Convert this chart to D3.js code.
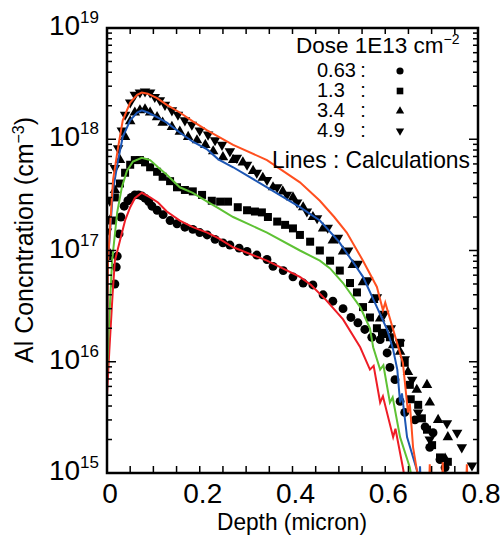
<!DOCTYPE html>
<html>
<head>
<meta charset="utf-8">
<script src="https://cdn.jsdelivr.net/npm/d3@7"></script>
<style>
body { margin: 0; background: #fff; }
text { font-family: "Liberation Sans", Arial, sans-serif; fill: #000; }
</style>
</head>
<body>
<svg id="chart" width="500" height="538"></svg>
<script>
// depth (micron), Al concentration (cm^-3)
const calc063 = [[0,5.0e15],[0.005,1.26e16],[0.012,4.0e16],[0.017,8.1e16],[0.028,1.23e17],[0.039,1.86e17],[0.05,2.45e17],[0.06,2.95e17],[0.075,3.3e17],[0.093,3.0e17],[0.11,2.7e17],[0.129,2.24e17],[0.157,1.86e17],[0.185,1.62e17],[0.216,1.45e17],[0.24,1.29e17],[0.272,1.07e17],[0.345,8.1e16],[0.416,5.8e16],[0.44,4.9e16],[0.472,3.6e16],[0.509,2.4e16],[0.546,1.35e16],[0.567,8.5e15],[0.575,9.2e15],[0.589,4.3e15],[0.595,4.9e15],[0.617,2.1e15],[0.622,2.5e15],[0.638,1.12e15],[0.642,9e14]];
const calc13 = [[0,7.9e15],[0.005,2.5e16],[0.011,8.1e16],[0.022,2.2e17],[0.032,3.7e17],[0.043,5.2e17],[0.056,6.3e17],[0.075,6.8e17],[0.093,6.5e17],[0.11,5.6e17],[0.129,4.8e17],[0.157,3.7e17],[0.185,3.3e17],[0.216,2.75e17],[0.24,2.4e17],[0.272,2.0e17],[0.345,1.45e17],[0.416,1.0e17],[0.459,8.1e16],[0.481,6.9e16],[0.509,5.1e16],[0.546,3.1e16],[0.567,2.0e16],[0.574,1.35e16],[0.589,8.5e15],[0.596,9.3e15],[0.61,4.3e15],[0.616,4.8e15],[0.632,2.1e15],[0.653,1.12e15],[0.657,9e14]];
const calc34 = [[0,1.0e16],[0.002,7.9e16],[0.013,3.5e17],[0.024,6.5e17],[0.034,1.05e18],[0.05,1.48e18],[0.065,1.74e18],[0.075,1.82e18],[0.088,1.74e18],[0.108,1.58e18],[0.129,1.41e18],[0.157,1.15e18],[0.185,9.5e17],[0.216,8.1e17],[0.24,6.6e17],[0.272,5.6e17],[0.345,3.7e17],[0.416,2.45e17],[0.459,1.86e17],[0.5,1.2e17],[0.533,7.6e16],[0.552,5.8e16],[0.582,3.1e16],[0.604,1.95e16],[0.617,1.29e16],[0.626,8.5e15],[0.632,4.3e15],[0.636,5.2e15],[0.647,2.1e15],[0.668,1.07e15],[0.672,9e14],[0.674,9e14],[0.675,1.15e15],[0.676,9e14]];
const calc49 = [[0,1.0e16],[0.002,7.9e16],[0.013,4.3e17],[0.024,8.5e17],[0.034,1.48e18],[0.05,2.14e18],[0.065,2.51e18],[0.075,2.63e18],[0.088,2.57e18],[0.108,2.34e18],[0.129,2.04e18],[0.157,1.74e18],[0.185,1.45e18],[0.216,1.2e18],[0.272,8.9e17],[0.345,6.5e17],[0.416,4.1e17],[0.459,2.8e17],[0.49,2.0e17],[0.517,1.45e17],[0.552,8.1e16],[0.582,4.7e16],[0.595,2.9e16],[0.6,3.4e16],[0.617,1.95e16],[0.638,9.8e15],[0.649,3.5e15],[0.653,4.2e15],[0.66,1.7e15],[0.668,1.07e15],[0.672,9e14],[0.695,9e14],[0.696,1.2e15],[0.697,9e14],[0.723,9e14],[0.724,1.25e15],[0.725,9e14],[0.775,9e14],[0.776,1.2e15],[0.777,9e14]];

const meas063 = [[0.017,5.0e16],[0.02,7.1e16],[0.022,8.9e16],[0.026,1.41e17],[0.03,2.0e17],[0.037,2.5e17],[0.045,2.8e17],[0.052,3.0e17],[0.06,3.16e17],[0.068,3.16e17],[0.075,3.1e17],[0.082,2.95e17],[0.09,2.75e17],[0.097,2.5e17],[0.108,2.3e17],[0.121,2.1e17],[0.136,1.86e17],[0.151,1.74e17],[0.168,1.62e17],[0.185,1.55e17],[0.2,1.45e17],[0.216,1.38e17],[0.233,1.26e17],[0.25,1.17e17],[0.265,1.12e17],[0.285,1.05e17],[0.302,9.8e16],[0.323,9.1e16],[0.345,8.3e16],[0.358,7.2e16],[0.38,6.6e16],[0.401,5.8e16],[0.423,5.1e16],[0.444,4.9e16],[0.466,4.0e16],[0.487,3.5e16],[0.509,3.0e16],[0.526,2.5e16],[0.541,2.24e16],[0.556,1.95e16],[0.571,1.66e16],[0.589,1.58e16],[0.604,1.2e16],[0.61,8.9e15],[0.621,6.9e15],[0.632,4.4e15],[0.642,3.5e15],[0.664,3.0e15],[0.686,2.6e15],[0.703,2.3e15],[0.696,1.7e15],[0.718,1.32e15],[0.729,1.12e15]];
const meas13 = [[0.002,8.9e16],[0.011,1.86e17],[0.017,3.0e17],[0.028,4.0e17],[0.039,5.0e17],[0.05,5.9e17],[0.06,6.5e17],[0.071,6.5e17],[0.082,6.2e17],[0.093,5.6e17],[0.108,5.1e17],[0.12,4.6e17],[0.136,4.2e17],[0.151,3.7e17],[0.168,3.5e17],[0.185,3.4e17],[0.205,3.16e17],[0.226,2.8e17],[0.244,2.75e17],[0.261,2.75e17],[0.282,2.45e17],[0.302,2.3e17],[0.319,2.24e17],[0.334,2.2e17],[0.347,2.0e17],[0.367,1.82e17],[0.384,1.7e17],[0.401,1.58e17],[0.416,1.38e17],[0.438,1.2e17],[0.459,1.0e17],[0.481,8.1e16],[0.502,6.6e16],[0.524,5.1e16],[0.539,4.2e16],[0.552,3.1e16],[0.567,2.5e16],[0.582,2.0e16],[0.593,1.82e16],[0.61,1.66e16],[0.632,1.48e16],[0.642,9.8e15],[0.653,6.2e15],[0.655,4.6e15],[0.671,4.1e15],[0.679,3.1e15],[0.69,2.45e15],[0.701,1.78e15],[0.718,1.38e15],[0.735,1.26e15]];
const meas34 = [[0.002,1.0e17],[0.006,1.86e17],[0.017,3.5e17],[0.028,6.5e17],[0.039,1.05e18],[0.05,1.45e18],[0.06,1.74e18],[0.071,1.82e18],[0.082,1.86e18],[0.093,1.74e18],[0.108,1.58e18],[0.12,1.41e18],[0.14,1.29e18],[0.157,1.17e18],[0.175,1.05e18],[0.194,9.8e17],[0.212,8.9e17],[0.229,7.8e17],[0.25,6.9e17],[0.272,6.5e17],[0.293,6.2e17],[0.315,5.2e17],[0.336,4.5e17],[0.358,3.7e17],[0.379,3.4e17],[0.401,3.0e17],[0.423,2.45e17],[0.444,2.0e17],[0.466,1.58e17],[0.487,1.23e17],[0.509,9.8e16],[0.53,7.4e16],[0.552,5.2e16],[0.574,3.6e16],[0.589,2.45e16],[0.604,1.74e16],[0.617,1.41e16],[0.632,1.23e16],[0.649,8.1e15],[0.668,5.6e15],[0.69,6.2e15],[0.696,4.3e15],[0.714,3.0e15],[0.735,2.1e15],[0.729,1.35e15]];
const meas49 = [[0,1.48e17],[0.006,2.8e17],[0.017,5.5e17],[0.024,8.3e17],[0.032,1.2e18],[0.039,1.66e18],[0.05,2.14e18],[0.06,2.51e18],[0.071,2.63e18],[0.082,2.69e18],[0.093,2.63e18],[0.103,2.4e18],[0.114,2.24e18],[0.125,2.04e18],[0.14,1.82e18],[0.153,1.66e18],[0.168,1.48e18],[0.183,1.35e18],[0.2,1.2e18],[0.218,1.1e18],[0.233,9.8e17],[0.248,8.9e17],[0.265,7.8e17],[0.28,6.8e17],[0.302,5.9e17],[0.323,5.0e17],[0.345,4.3e17],[0.367,3.7e17],[0.388,3.16e17],[0.41,2.7e17],[0.431,2.24e17],[0.453,1.95e17],[0.476,1.6e17],[0.498,1.3e17],[0.52,1.0e17],[0.541,7.6e16],[0.563,5.4e16],[0.582,3.8e16],[0.598,2.7e16],[0.612,2.0e16],[0.632,1.48e16],[0.642,1.05e16],[0.658,6.9e15],[0.671,3.5e15],[0.696,2.0e15],[0.733,2.8e15],[0.755,2.3e15],[0.765,1.7e15],[0.787,1.17e15]];

const xTickLabels = ["0", "0.2", "0.4", "0.6", "0.8"];
const yDecades = [15, 16, 17, 18, 19];
const doseLabels = ["0.63", "1.3", "3.4", "4.9"];

const svg = d3.select("#chart");
const plotLeft = 107, plotRight = 478, plotTop = 28, plotBottom = 473;

const x = d3.scaleLinear().domain([0, 0.8]).range([plotLeft, plotRight]);
const y = d3.scaleLog().domain([1e15, 1e19]).range([plotBottom, plotTop]);

svg.append("clipPath").attr("id", "plotclip")
    .append("rect")
    .attr("x", plotLeft).attr("y", plotTop)
    .attr("width", plotRight - plotLeft).attr("height", plotBottom - plotTop);

const plot = svg.append("g").attr("clip-path", "url(#plotclip)");

const downTriangle = {
    draw(context, size) {
        const s = Math.sqrt(size / (Math.sqrt(3) / 4));
        const h = s * Math.sqrt(3) / 2;
        context.moveTo(0, h * 2 / 3);
        context.lineTo(s / 2, -h / 3);
        context.lineTo(-s / 2, -h / 3);
        context.closePath();
    }
};

const series = [
    {meas: meas063, calc: calc063, color: "#ee1d26", symbol: d3.symbolCircle, size: 62, legSize: 40},
    {meas: meas13, calc: calc13, color: "#5ec234", symbol: d3.symbolSquare, size: 64, legSize: 44},
    {meas: meas34, calc: calc34, color: "#1c56b4", symbol: d3.symbolTriangle, size: 48, legSize: 30},
    {meas: meas49, calc: calc49, color: "#ff4f1f", symbol: downTriangle, size: 48, legSize: 30}
];

series.forEach(s => {
    plot.selectAll(null)
        .data(s.meas)
        .enter()
        .append("path")
        .attr("transform", d => `translate(${x(d[0])},${y(d[1])})`)
        .attr("d", d3.symbol().type(s.symbol).size(s.size))
        .attr("fill", "#000");
});

const line = d3.line().x(d => x(d[0])).y(d => y(d[1]));

series.forEach(s => {
    plot.append("path")
        .datum(s.calc)
        .attr("d", line)
        .attr("fill", "none")
        .attr("stroke", s.color)
        .attr("stroke-width", 2);
});

// frame
svg.append("rect")
    .attr("x", plotLeft).attr("y", plotTop)
    .attr("width", plotRight - plotLeft).attr("height", plotBottom - plotTop)
    .attr("fill", "none")
    .attr("stroke", "#000")
    .attr("stroke-width", 2.5);

// x ticks (inward, bottom and top)
const xMinor = d3.range(0, 0.8001, 0.05);
xMinor.forEach(v => {
    svg.append("line")
        .attr("x1", x(v)).attr("x2", x(v))
        .attr("y1", plotBottom).attr("y2", plotBottom - 7)
        .attr("stroke", "#000").attr("stroke-width", 1.5);
    svg.append("line")
        .attr("x1", x(v)).attr("x2", x(v))
        .attr("y1", plotTop).attr("y2", plotTop + 6)
        .attr("stroke", "#000").attr("stroke-width", 1.5);
});

// y ticks (log, inward, left and right)
yDecades.forEach(e => {
    const base = Math.pow(10, e);
    const ticks = e < 19 ? d3.range(1, 10) : [1];
    ticks.forEach(m => {
        const len = m === 1 ? 9 : 5;
        const yy = y(base * m);
        svg.append("line")
            .attr("x1", plotLeft).attr("x2", plotLeft + len)
            .attr("y1", yy).attr("y2", yy)
            .attr("stroke", "#000").attr("stroke-width", 1.5);
        svg.append("line")
            .attr("x1", plotRight).attr("x2", plotRight - len)
            .attr("y1", yy).attr("y2", yy)
            .attr("stroke", "#000").attr("stroke-width", 1.5);
    });
});

// x tick labels
xTickLabels.forEach(t => {
    svg.append("text")
        .attr("x", x(+t) + 3)
        .attr("y", 503)
        .attr("text-anchor", "middle")
        .style("font-size", "28px")
        .text(t);
});

// y tick labels
yDecades.forEach(e => {
    const t = svg.append("text")
        .attr("x", 99)
        .attr("y", y(Math.pow(10, e)) + 7)
        .attr("text-anchor", "end")
        .style("font-size", "28px");
    t.append("tspan").text("10");
    t.append("tspan").attr("dy", -12).style("font-size", "17px").text(e);
});

// axis titles
svg.append("text")
    .attr("x", 217)
    .attr("y", 530)
    .attr("textLength", 150)
    .attr("lengthAdjust", "spacingAndGlyphs")
    .style("font-size", "24px")
    .text("Depth (micron)");

const yTitle = svg.append("text")
    .attr("transform", "translate(33,240) rotate(-90)")
    .attr("text-anchor", "middle")
    .style("font-size", "25px");
yTitle.append("tspan").text("Al Concntration (cm");
yTitle.append("tspan").attr("dy", -9).style("font-size", "16px").text("\u22123");
yTitle.append("tspan").attr("dy", 9).text(")");

// legend
const dose = svg.append("text")
    .attr("x", 296)
    .attr("y", 53)
    .style("font-size", "22.5px");
dose.append("tspan").text("Dose 1E13 cm");
dose.append("tspan").attr("dy", -9).style("font-size", "14px").text("\u22122");

doseLabels.forEach((lab, i) => {
    const by = 77 + i * 20;
    svg.append("text")
        .attr("x", 317).attr("y", by)
        .style("font-size", "20px")
        .text(lab);
    svg.append("text")
        .attr("x", 363).attr("y", by)
        .attr("text-anchor", "middle")
        .style("font-size", "20px")
        .text(":");
    svg.append("path")
        .attr("transform", `translate(400,${by - 6})`)
        .attr("d", d3.symbol().type(series[i].symbol).size(series[i].legSize))
        .attr("fill", "#000");
});

svg.append("text")
    .attr("x", 272)
    .attr("y", 168)
    .attr("textLength", 198)
    .attr("lengthAdjust", "spacingAndGlyphs")
    .style("font-size", "24px")
    .text("Lines : Calculations");
</script>
</body>
</html>
